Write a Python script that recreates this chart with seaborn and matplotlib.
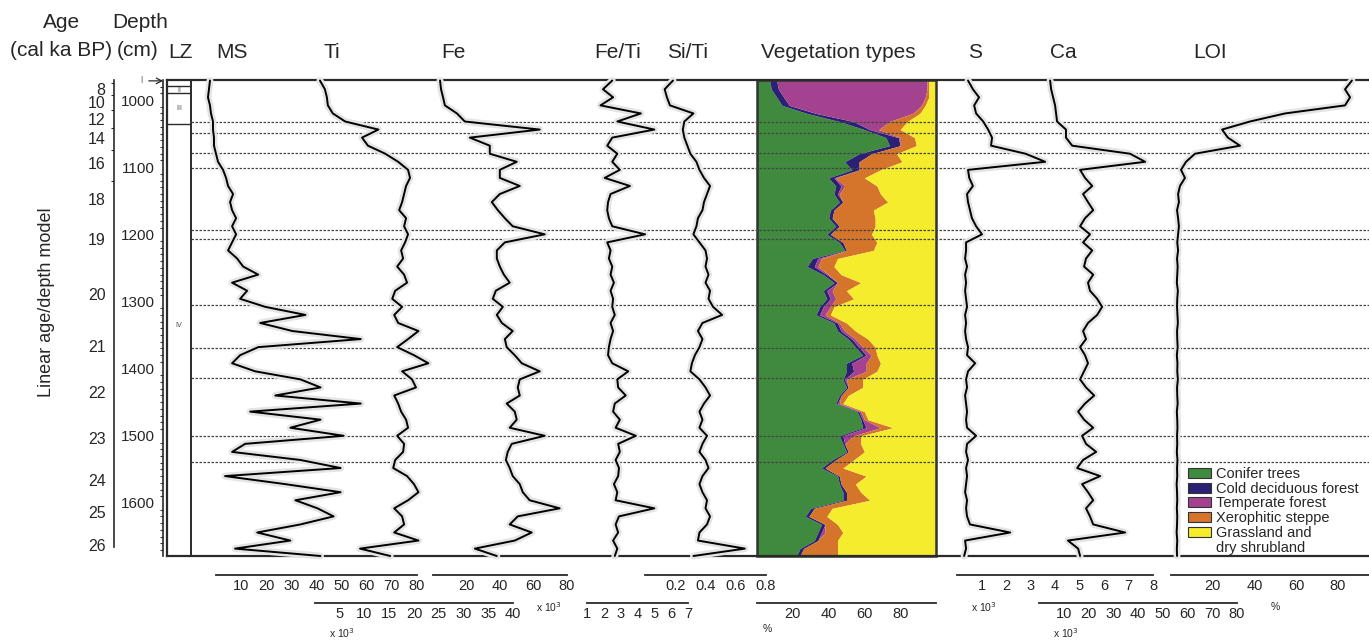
import numpy as np
import pandas as pd
import matplotlib
matplotlib.use('Agg')
import matplotlib.pyplot as plt
from matplotlib.patches import Patch, Rectangle
from matplotlib.ticker import MultipleLocator
import seaborn as sb

W, H = 1369, 640
TOP, BOT = 80, 556
D_TOP, D_BOT = 970.2, 1679.0

# depth of each sample (cm)
depth_cm = [971, 984, 996, 1008, 1020, 1032, 1044, 1056, 1068, 1080,
	1092, 1104, 1116, 1128, 1140, 1152, 1164, 1176, 1188, 1200,
	1212, 1224, 1236, 1248, 1260, 1272, 1284, 1296, 1308, 1320,
	1332, 1344, 1356, 1368, 1380, 1392, 1404, 1416, 1428, 1440,
	1452, 1464, 1476, 1488, 1500, 1512, 1524, 1536, 1548, 1560,
	1572, 1584, 1596, 1608, 1620, 1632, 1644, 1656, 1668, 1679]

ms = [-2.4, -2.8, -3.2, -2.4, -2.0, -1.2, -1.2, -0.8, -0.8, 0.0,
	0.8, 2.8, 4.0, 4.8, 6.8, 5.6, 6.4, 8.0, 6.4, 8.0,
	6.4, 4.8, 8.4, 10.8, 16.8, 6.4, 12.4, 9.6, 19.6, 35.6,
	17.6, 30.4, 57.6, 16.8, 9.6, 6.4, 15.6, 33.6, 41.6, 23.6,
	57.6, 13.6, 41.6, 29.6, 50.8, 11.6, 6.4, 33.6, 49.6, 3.6,
	27.6, 49.6, 31.6, 40.4, 46.8, 33.6, 16.4, 29.6, 7.6, 41.6]

ti = [1.0, 2.0, 2.4, 2.6, 3.6, 6.1, 12.8, 9.5, 10.7, 14.2,
	16.8, 18.8, 19.2, 18.4, 18.0, 17.6, 17.0, 18.4, 18.0, 18.8,
	18.2, 17.4, 17.8, 16.6, 18.0, 18.6, 16.2, 15.6, 17.6, 16.0,
	16.8, 20.9, 18.8, 16.6, 20.0, 22.9, 17.6, 19.6, 20.4, 16.0,
	16.8, 17.4, 18.4, 18.8, 16.6, 18.0, 17.8, 16.2, 15.8, 18.6,
	20.0, 20.9, 18.8, 16.0, 17.6, 18.0, 16.0, 20.9, 9.1, 15.2]

fe = [4.2, 4.8, 6.0, 7.1, 14.3, 19.0, 63.7, 22.0, 33.9, 33.9,
	50.0, 39.9, 39.9, 51.8, 39.9, 35.1, 38.7, 42.9, 47.6, 66.7,
	42.9, 38.1, 38.1, 39.9, 42.3, 45.8, 37.5, 35.7, 41.7, 38.1,
	41.1, 47.6, 42.9, 44.0, 48.8, 53.0, 63.7, 51.8, 50.6, 51.8,
	44.0, 48.8, 50.0, 45.8, 66.7, 47.0, 44.6, 43.5, 45.8, 47.6,
	51.8, 53.6, 57.7, 75.6, 50.6, 45.8, 58.9, 48.8, 25.0, 38.1]

fe_ti = [2.5, 1.95, 2.55, 1.8, 4.2, 2.8, 5.0, 2.5, 2.2, 2.8,
	2.5, 2.95, 2.05, 3.55, 2.4, 2.25, 2.2, 2.3, 2.5, 4.45,
	2.2, 2.4, 2.3, 2.5, 2.4, 2.6, 2.4, 2.55, 2.5, 2.65,
	2.4, 2.55, 2.4, 2.3, 2.25, 2.5, 3.45, 2.8, 2.85, 3.3,
	2.65, 2.55, 2.95, 2.7, 3.9, 2.85, 2.95, 2.7, 2.9, 2.85,
	2.6, 2.8, 2.7, 5.0, 2.9, 2.7, 2.85, 2.55, 2.8, 2.65]

si_ti = [0.185, 0.13, 0.145, 0.165, 0.32, 0.26, 0.25, 0.26, 0.28, 0.30,
	0.34, 0.36, 0.39, 0.43, 0.41, 0.39, 0.38, 0.35, 0.34, 0.32,
	0.36, 0.40, 0.41, 0.40, 0.42, 0.40, 0.43, 0.42, 0.45, 0.51,
	0.38, 0.35, 0.38, 0.36, 0.33, 0.31, 0.30, 0.36, 0.40, 0.43,
	0.39, 0.36, 0.38, 0.36, 0.41, 0.38, 0.36, 0.40, 0.42, 0.38,
	0.36, 0.38, 0.41, 0.40, 0.43, 0.41, 0.36, 0.35, 0.66, 0.32]

s = [0.45, 0.65, 0.9, 0.7, 0.78, 1.07, 1.27, 1.43, 1.39, 2.8,
	3.6, 0.45, 0.5, 0.65, 0.41, 0.45, 0.53, 0.61, 0.78, 1.02,
	0.37, 0.37, 0.33, 0.41, 0.33, 0.37, 0.33, 0.37, 0.41, 0.33,
	0.37, 0.33, 0.37, 0.45, 0.41, 0.74, 0.45, 0.37, 0.41, 0.33,
	0.37, 0.41, 0.37, 0.41, 0.78, 0.41, 0.37, 0.45, 0.37, 0.41,
	0.37, 0.33, 0.41, 0.37, 0.41, 0.53, 2.17, 0.33, 0.37, 0.29]

ca = [4.5, 4.9, 5.7, 6.5, 6.9, 7.3, 10.9, 10.9, 13.4, 36.8,
	42.9, 16.6, 18.6, 21.5, 17.8, 19.8, 21.9, 18.6, 16.6, 20.6,
	17.8, 21.5, 19.0, 18.2, 21.9, 19.8, 20.6, 23.5, 25.5, 23.5,
	19.8, 17.8, 19.0, 16.6, 18.6, 19.8, 18.2, 16.6, 19.0, 22.3,
	18.6, 15.8, 18.2, 21.9, 17.4, 19.0, 23.1, 17.8, 15.4, 24.7,
	17.4, 19.8, 21.9, 19.0, 20.6, 21.9, 34.8, 11.7, 15.8, 16.6]

loi = [86.8, 83.5, 85.9, 83.5, 54.7, 37.9, 24.5, 27.3, 33.1, 11.5,
	7.2, 4.8, 6.7, 4.3, 3.4, 3.8, 2.9, 3.4, 3.8, 3.4,
	3.0, 3.4, 2.9, 3.2, 3.0, 2.8, 3.3, 3.0, 2.9, 3.1,
	3.3, 2.9, 3.0, 3.2, 2.8, 3.1, 3.0, 3.3, 2.9, 3.0,
	3.2, 2.8, 3.0, 3.1, 2.9, 3.0, 2.8, 3.1, 2.9, 3.0,
	2.7, 2.9, 3.0, 2.8, 3.0, 2.9, 2.7, 3.0, 2.8, 2.9]

# vegetation types (%)
conifer = [7, 8, 11, 14, 28, 46, 60, 72, 74, 57, 49, 53, 40, 44, 43, 46, 41, 40, 44, 39,
	46, 49, 31, 28, 37, 43, 37, 39, 35, 33, 43, 45, 51, 55, 59, 50, 50, 48, 50, 46,
	44, 56, 58, 59, 46, 48, 50, 42, 36, 45, 46, 48, 48, 30, 27, 36, 34, 32, 24, 22]
cold_dec = [4, 4, 4, 4, 5, 8, 3, 7, 6, 7, 8, 4, 3, 3, 2, 2, 2, 2, 2, 2,
	2, 1, 3, 4, 2, 2, 2, 2, 2, 2, 2, 2, 2, 2, 2, 3, 4, 1, 1, 1,
	1, 1, 1, 2, 2, 1, 1, 2, 2, 1, 1, 2, 2, 2, 2, 2, 2, 2, 2, 2]
temperate = [84, 83, 79, 74, 54, 20, 5, 1, 0, 0, 0, 0, 1, 2, 1, 0, 0, 0, 0, 0,
	0, 0, 2, 2, 1, 0, 3, 3, 4, 3, 1, 2, 2, 2, 3, 8, 7, 1, 0, 0,
	1, 1, 1, 8, 6, 0, 0, 0, 0, 0, 0, 0, 0, 0, 0, 0, 2, 0, 0, 0]
xero = [1, 1, 2, 2, 4, 10, 12, 8, 9, 14, 24, 12, 16, 18, 23, 25, 22, 24, 20, 23,
	19, 15, 9, 9, 7, 13, 8, 10, 2, 3, 4, 6, 7, 7, 3, 8, 6, 9, 8, 4,
	2, 2, 2, 7, 4, 9, 9, 10, 10, 15, 8, 8, 13, 10, 10, 7, 10, 11, 19, 21]
grass = [4, 4, 4, 6, 9, 16, 20, 12, 11, 22, 19, 31, 40, 33, 31, 27, 35, 34, 34, 36,
	33, 35, 55, 57, 53, 42, 50, 46, 57, 59, 50, 45, 38, 34, 33, 31, 33, 41, 41, 49,
	52, 40, 38, 24, 42, 42, 40, 46, 52, 39, 45, 42, 37, 58, 61, 55, 52, 55, 55, 55]
veg_names = ['Conifer trees', 'Cold deciduous forest', 'Temperate forest',
	'Xerophitic steppe', 'Grassland and']
veg_colors = ['#3f8a3e', '#2a2175', '#a4428f', '#d4752b', '#f4ec2c']

age_labels = [8, 10, 12, 14, 16, 18, 19, 20, 21, 22, 23, 24, 25, 26]
age_depths = [983.6, 1003.0, 1028.2, 1056.5, 1093.7, 1147.3, 1206.8,
	1288.7, 1366.1, 1434.5, 1503.0, 1565.5, 1613.1, 1662.2]
age_minor = [974, 993, 1015, 1042, 1075, 1120]

zone_lines = [978.8, 990.3, 1035.0]
zone_labels = [('II', 984.5), ('III', 1012.0), ('IV', 1335.0)]
boundaries = [1033.1, 1049.5, 1078.4, 1100.7, 1193.4, 1206.8,
	1305.0, 1369.5, 1414.1, 1500.0, 1539.7]

sb.set_style('white')
plt.rcParams['font.family'] = ['Liberation Sans', 'DejaVu Sans']

fig = plt.figure(figsize=(W / 100, H / 100), dpi=100)
SPC = '#2a2a2a'


def px_axes(x0, x1, y0=TOP, y1=BOT, z=2):
	ax = fig.add_axes([x0 / W, 1 - y1 / H, (x1 - x0) / W, (y1 - y0) / H], zorder=z)
	ax.patch.set_alpha(0)
	ax.set_ylim(D_BOT, D_TOP)
	return ax


def bottom_scale(ax, ticks, labels, row):
	for side in ['left', 'right', 'top']:
		ax.spines[side].set_visible(False)
	off = 19 if row == 1 else 47
	ax.spines['bottom'].set_position(('outward', off * 0.72))
	ax.spines['bottom'].set_linewidth(1.3)
	ax.spines['bottom'].set_color(SPC)
	ax.set_yticks([])
	ax.set_xticks(ticks)
	ax.set_xticklabels(labels)
	ax.tick_params(axis='x', direction='in', length=4, width=1.2, color=SPC,
		labelsize=10.5, pad=3)
	ax.set_xlabel('')
	ax.set_ylabel('')


def curve_panel(vals, x0, x1, lims, ticks, labels, row):
	ax = px_axes(x0, x1)
	df = pd.DataFrame({'v': vals, 'd': depth_cm})
	sb.lineplot(data=df, x='v', y='d', orient='y', sort=False, estimator=None,
		color='#e4e4e4', lw=5, ax=ax)
	sb.lineplot(data=df, x='v', y='d', orient='y', sort=False, estimator=None,
		color='black', lw=1.4, ax=ax)
	for ln in ax.lines:
		ln.set_clip_on(False)
	ax.set_xlim(*lims)
	ax.set_ylim(D_BOT, D_TOP)
	bottom_scale(ax, ticks, labels, row)
	return ax


def lab(vals, show):
	return [(('%g' % v) if v in show else '') for v in vals]

# frame, zones and dashed boundaries
fr = px_axes(167, 1369, z=1)
fr.set_xlim(167, 1369)
fr.set_xticks([])
fr.set_yticks([])
for side in ['left', 'top', 'bottom']:
	fr.spines[side].set_linewidth(1.6)
	fr.spines[side].set_color(SPC)
fr.spines['right'].set_visible(False)
fr.vlines(191, D_TOP, D_BOT, color=SPC, lw=1.4)
fr.hlines(zone_lines, 167, 191, color=SPC, lw=1.0)
fr.hlines(boundaries, 191, 1369, color='#444444', lw=0.9, linestyles=(0, (2, 1.2)))
for t, d in zone_labels:
	fr.text(179, d, t, fontsize=5, color='#555555', ha='center', va='center',
		family='DejaVu Sans')
fr.text(141, 971.5, 'I', fontsize=5.5, color='#555555', ha='center', va='center',
	family='DejaVu Sans')
fr.annotate('', xy=(166, 971.5), xytext=(146, 971.5), annotation_clip=False,
	arrowprops=dict(arrowstyle='->', lw=0.9, color=SPC))

# depth axis
dax = px_axes(163, 165, z=1)
for side in ['right', 'top', 'bottom']:
	dax.spines[side].set_visible(False)
dax.spines['left'].set_color(SPC)
dax.spines['left'].set_linewidth(1.2)
dax.set_xticks([])
dax.set_yticks([1000, 1100, 1200, 1300, 1400, 1500, 1600])
dax.yaxis.set_minor_locator(MultipleLocator(10))
dax.tick_params(axis='y', which='major', direction='out', length=5, width=1.1,
	color=SPC, labelsize=11, pad=1)
dax.tick_params(axis='y', which='minor', direction='out', length=2.5, width=0.8,
	color=SPC, left=True)

# age axis
aax = px_axes(114, 116, z=1)
for side in ['right', 'top', 'bottom']:
	aax.spines[side].set_visible(False)
aax.spines['left'].set_color(SPC)
aax.spines['left'].set_linewidth(1.2)
aax.spines['left'].set_bounds(D_TOP, 1665)
aax.set_xticks([])
aax.set_yticks(age_depths)
aax.set_yticklabels([str(a) for a in age_labels])
aax.set_yticks(age_minor, minor=True)
aax.tick_params(axis='y', which='major', direction='out', length=5, width=1.1,
	color=SPC, labelsize=11.5, pad=1)
aax.tick_params(axis='y', which='minor', direction='out', length=2.5, width=0.8,
	color=SPC, left=True)

# vegetation stack
vax = px_axes(757, 936, z=0.5)
stack = np.cumsum(np.array([conifer, cold_dec, temperate, xero, grass], dtype=float), axis=0)
left = np.zeros(len(depth_cm))
for cum, col in zip(stack, veg_colors):
	vax.fill_betweenx(depth_cm, left, cum, color=col, lw=0)
	left = cum
vax.set_xlim(0, 100)
vax.set_ylim(D_BOT, D_TOP)
vax.add_patch(Rectangle((0, 0), 1, 1, transform=vax.transAxes, fill=False,
	ec='#333333', lw=1.8, clip_on=False, zorder=5))
bottom_scale(vax, list(range(0, 101, 5)), lab(range(0, 101, 5), [20, 40, 60, 80]), 2)

# geochemistry curves
curve_panel(ms, 216, 417, (0, 80), list(range(0, 81, 10)), lab(range(0, 81, 10), range(10, 81, 10)), 1)
curve_panel(ti, 315, 513, (0, 40), list(range(0, 41, 5)), lab(range(0, 41, 5), range(5, 41, 5)), 2)
curve_panel(fe, 433, 567, (0, 80), list(range(0, 81, 10)), lab(range(0, 81, 10), [20, 40, 60, 80]), 1)
curve_panel(fe_ti, 587, 688, (1, 7), list(range(1, 8)), [str(i) for i in range(1, 8)], 2)
si_ticks = [0, 0.1, 0.2, 0.3, 0.4, 0.5, 0.6, 0.7, 0.8]
curve_panel(si_ti, 645, 766, (0, 0.8), si_ticks, ['', '', '0.2', '', '0.4', '', '0.6', '', '0.8'], 1)
curve_panel(s, 957, 1153, (0, 8), list(range(0, 9)), lab(range(0, 9), range(1, 9)), 1)
curve_panel(ca, 1039, 1237, (0, 80), list(range(0, 81, 10)), lab(range(0, 81, 10), range(10, 81, 10)), 2)
curve_panel(loi, 1171, 1369, (0, 95), list(range(0, 91, 10)), lab(range(0, 91, 10), [20, 40, 60, 80]), 1)


def ftext(x, y, txt, size=15, **kw):
	fig.text(x / W, 1 - y / H, txt, fontsize=size, ha='center', va='center', **kw)

ftext(62, 23, 'Age')
ftext(61, 50, '(cal ka BP)')
ftext(140, 23, 'Depth')
ftext(138, 50, '(cm)')
ftext(180, 52, 'LZ')
ftext(232, 52, 'MS')
ftext(332, 52, 'Ti')
ftext(453, 52, 'Fe')
ftext(618, 52, 'Fe/Ti')
ftext(688, 52, 'Si/Ti')
ftext(838, 52, 'Vegetation types')
ftext(975, 52, 'S')
ftext(1063, 52, 'Ca')
ftext(1210, 52, 'LOI')
ftext(47, 302, 'Linear age/depth model', size=13, rotation=90)

for x, y, t in [(342, 633, 'x 10$^3$'), (549, 607, 'x 10$^3$'), (984, 607, 'x 10$^3$'),
		(1066, 633, 'x 10$^3$'), (767, 629, '%'), (1275, 607, '%')]:
	ftext(x, y, t, size=7.5)

handles = [Patch(fc=c, ec='#333333', lw=0.8, label=n) for c, n in zip(veg_colors, veg_names)]
handles.append(Patch(fc='none', ec='none', label='dry shrubland'))
fig.legend(handles=handles, loc='upper left', bbox_to_anchor=(1188 / W, 1 - 467 / H),
	frameon=False, fontsize=10.5, handlelength=1.6, handleheight=0.7,
	labelspacing=0.05, handletextpad=0.3, borderpad=0, borderaxespad=0)

fig.savefig('out.png', dpi=100)
